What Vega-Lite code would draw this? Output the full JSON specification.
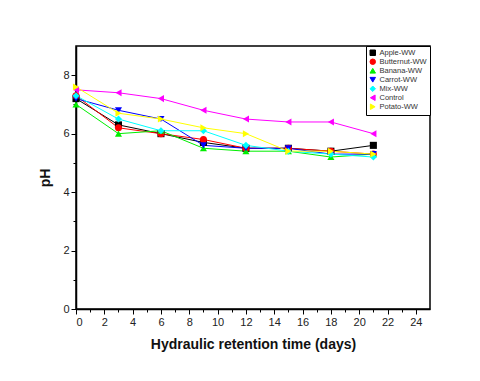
{
  "$schema": "https://vega.github.io/schema/vega-lite/v6.json",
  "width": 354,
  "height": 263,
  "autosize": {"type": "none"},
  "padding": {"left": 76, "top": 46, "right": 50, "bottom": 72},
  "background": "white",
  "config": {
    "font": "Liberation Sans",
    "view": {"stroke": "black", "strokeWidth": 1.5},
    "axis": {"grid": false, "domainColor": "black", "tickColor": "black", "labelColor": "#222", "titleColor": "#111", "labelFont": "Liberation Sans", "titleFont": "Liberation Sans"},
    "legend": {"rowPadding": -4, "symbolSize": 30, "labelFontSize": 7.5, "labelOffset": 3, "padding": 3, "symbolStrokeWidth": 1}
  },
  "data": {
    "values": [
      {"t": 0, "s": "Apple-WW", "pH": 7.2}, {"t": 3, "s": "Apple-WW", "pH": 6.3}, {"t": 6, "s": "Apple-WW", "pH": 6.0}, {"t": 9, "s": "Apple-WW", "pH": 5.7}, {"t": 12, "s": "Apple-WW", "pH": 5.5}, {"t": 15, "s": "Apple-WW", "pH": 5.5}, {"t": 18, "s": "Apple-WW", "pH": 5.4}, {"t": 21, "s": "Apple-WW", "pH": 5.6},
      {"t": 0, "s": "Butternut-WW", "pH": 7.3}, {"t": 3, "s": "Butternut-WW", "pH": 6.2}, {"t": 6, "s": "Butternut-WW", "pH": 6.0}, {"t": 9, "s": "Butternut-WW", "pH": 5.8}, {"t": 12, "s": "Butternut-WW", "pH": 5.5}, {"t": 15, "s": "Butternut-WW", "pH": 5.5}, {"t": 18, "s": "Butternut-WW", "pH": 5.4}, {"t": 21, "s": "Butternut-WW", "pH": 5.3},
      {"t": 0, "s": "Banana-WW", "pH": 7.0}, {"t": 3, "s": "Banana-WW", "pH": 6.0}, {"t": 6, "s": "Banana-WW", "pH": 6.1}, {"t": 9, "s": "Banana-WW", "pH": 5.5}, {"t": 12, "s": "Banana-WW", "pH": 5.4}, {"t": 15, "s": "Banana-WW", "pH": 5.4}, {"t": 18, "s": "Banana-WW", "pH": 5.2}, {"t": 21, "s": "Banana-WW", "pH": 5.3},
      {"t": 0, "s": "Carrot-WW", "pH": 7.2}, {"t": 3, "s": "Carrot-WW", "pH": 6.8}, {"t": 6, "s": "Carrot-WW", "pH": 6.5}, {"t": 9, "s": "Carrot-WW", "pH": 5.6}, {"t": 12, "s": "Carrot-WW", "pH": 5.5}, {"t": 15, "s": "Carrot-WW", "pH": 5.5}, {"t": 18, "s": "Carrot-WW", "pH": 5.3}, {"t": 21, "s": "Carrot-WW", "pH": 5.3},
      {"t": 0, "s": "Mix-WW", "pH": 7.3}, {"t": 3, "s": "Mix-WW", "pH": 6.5}, {"t": 6, "s": "Mix-WW", "pH": 6.1}, {"t": 9, "s": "Mix-WW", "pH": 6.1}, {"t": 12, "s": "Mix-WW", "pH": 5.6}, {"t": 15, "s": "Mix-WW", "pH": 5.4}, {"t": 18, "s": "Mix-WW", "pH": 5.3}, {"t": 21, "s": "Mix-WW", "pH": 5.2},
      {"t": 0, "s": "Control", "pH": 7.5}, {"t": 3, "s": "Control", "pH": 7.4}, {"t": 6, "s": "Control", "pH": 7.2}, {"t": 9, "s": "Control", "pH": 6.8}, {"t": 12, "s": "Control", "pH": 6.5}, {"t": 15, "s": "Control", "pH": 6.4}, {"t": 18, "s": "Control", "pH": 6.4}, {"t": 21, "s": "Control", "pH": 6.0},
      {"t": 0, "s": "Potato-WW", "pH": 7.6}, {"t": 3, "s": "Potato-WW", "pH": 6.7}, {"t": 6, "s": "Potato-WW", "pH": 6.5}, {"t": 9, "s": "Potato-WW", "pH": 6.2}, {"t": 12, "s": "Potato-WW", "pH": 6.0}, {"t": 15, "s": "Potato-WW", "pH": 5.4}, {"t": 18, "s": "Potato-WW", "pH": 5.4}, {"t": 21, "s": "Potato-WW", "pH": 5.3}
    ]
  },
  "encoding": {
    "x": {
      "field": "t", "type": "quantitative",
      "scale": {"domain": [0, 25], "nice": false},
      "axis": {
        "title": "Hydraulic retention time (days)",
        "titleFontSize": 14, "titleFontWeight": "bold", "titlePadding": 10,
        "values": [0,1,2,3,4,5,6,7,8,9,10,11,12,13,14,15,16,17,18,19,20,21,22,23,24],
        "labelExpr": "datum.value % 2 ? '' : datum.label",
        "labelFontSize": 11, "labelPadding": 2,
        "tickSize": {"condition": {"test": "datum.value % 2 === 0", "value": 5}, "value": 3},
        "domainWidth": 1.5
      }
    },
    "y": {
      "field": "pH", "type": "quantitative",
      "scale": {"domain": [0, 9], "nice": false},
      "axis": {
        "title": "pH",
        "titleFontSize": 14, "titleFontWeight": "bold", "titlePadding": 10,
        "values": [0,1,2,3,4,5,6,7,8],
        "labelExpr": "datum.value % 2 ? '' : datum.label",
        "labelFontSize": 11, "labelPadding": 2,
        "tickSize": {"condition": {"test": "datum.value % 2 === 0", "value": 5}, "value": 3},
        "domainWidth": 1.5
      }
    },
    "color": {
      "field": "s", "type": "nominal",
      "scale": {
        "domain": ["Apple-WW", "Butternut-WW", "Banana-WW", "Carrot-WW", "Mix-WW", "Control", "Potato-WW"],
        "range": ["#000000", "#ff0000", "#00ee00", "#0000ff", "#00ffff", "#ff00ff", "#ffff00"]
      },
      "legend": {
        "title": null, "orient": "top-right", "offset": 0,
        "strokeColor": "black", "fillColor": "white", "labelColor": "#333"
      }
    }
  },
  "layer": [
    {"mark": {"type": "line", "strokeWidth": 1}},
    {
      "mark": {"type": "point", "filled": true, "size": 50, "opacity": 1},
      "encoding": {
        "shape": {
          "field": "s", "type": "nominal",
          "scale": {
            "domain": ["Apple-WW", "Butternut-WW", "Banana-WW", "Carrot-WW", "Mix-WW", "Control", "Potato-WW"],
            "range": ["square", "circle", "triangle-up", "triangle-down", "diamond", "triangle-left", "triangle-right"]
          },
          "legend": {
            "title": null, "orient": "top-right", "offset": 0,
            "strokeColor": "black", "fillColor": "white", "labelColor": "#333"
          }
        }
      }
    }
  ]
}
